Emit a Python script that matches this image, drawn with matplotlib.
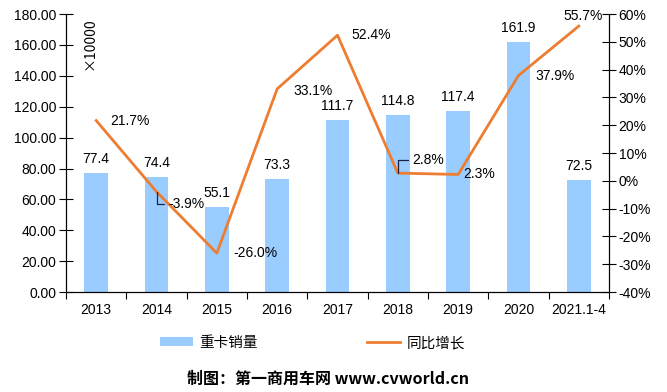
import matplotlib
matplotlib.use("Agg")
import matplotlib.pyplot as plt
from matplotlib.lines import Line2D
from matplotlib.patches import Patch

plt.rcParams['font.family'] = ['Liberation Sans', 'Noto Sans CJK SC', 'DejaVu Sans']

categories = ['2013', '2014', '2015', '2016', '2017', '2018', '2019', '2020', '2021.1-4']
sales = [77.4, 74.4, 55.1, 73.3, 111.7, 114.8, 117.4, 161.9, 72.5]
growth = [21.7, -3.9, -26.0, 33.1, 52.4, 2.8, 2.3, 37.9, 55.7]
left_ticks = [0, 20, 40, 60, 80, 100, 120, 140, 160, 180]
right_ticks = [-40, -30, -20, -10, 0, 10, 20, 30, 40, 50, 60]

# label offsets for growth labels, in pixels
growth_offsets = [(34, 0), (12, -12), (39, 0), (36, -2), (34, 0), (14, 13), (21, 0), (37, 0), (4, 10)]
growth_ha = ['center', 'left', 'center', 'center', 'center', 'left', 'center', 'center', 'center']
leader = [False, True, False, False, False, True, False, False, False]

fig = plt.figure(figsize=(6.67, 3.92), dpi=100)
ax = fig.add_axes([0.099, 0.255, 0.814, 0.709])
ax2 = ax.twinx()

x = list(range(len(categories)))
bar_color = '#99CCFF'
line_color = '#ED7D31'

ax.bar(x, sales, width=0.39, color=bar_color, zorder=2)
for xi, v in zip(x, sales):
    ax.annotate(f'{v:.1f}', (xi, v), xytext=(0, 7), textcoords='offset pixels',
                ha='center', va='bottom', fontsize=10)

ax.set_xlim(-0.5, len(categories) - 0.5)
ax.set_ylim(0, 180)
ax.set_yticks(left_ticks)
ax.set_yticklabels([f'{t:.2f}' for t in left_ticks], fontsize=10)
ax.set_xticks(x)
ax.set_xticklabels(categories, fontsize=10)
ax.set_xticks([i + 0.5 for i in range(-1, len(categories))], minor=True)
ax.tick_params(axis='x', which='major', length=0, pad=8)
ax.tick_params(axis='x', which='minor', length=5, direction='out', width=0.8)
ax.tick_params(axis='y', direction='inout', length=10, width=0.8, pad=2)

ax2.plot(x, growth, color=line_color, lw=2.0, zorder=3)
ax2.set_ylim(-40, 60)
ax2.set_yticks(right_ticks)
ax2.set_yticklabels([f'{t}%' for t in right_ticks], fontsize=10)
ax2.tick_params(axis='y', direction='inout', length=10, width=0.8, pad=2)

for xi, v, off, ha, ld in zip(x, growth, growth_offsets, growth_ha, leader):
    if ld:
        ax2.annotate(f'{v:.1f}%', (xi, v), xytext=off, textcoords='offset pixels',
                     ha=ha, va='center', fontsize=10,
                     arrowprops=dict(arrowstyle='-', color='#1F1F3F', lw=0.9,
                                     shrinkA=1, shrinkB=0,
                                     connectionstyle='angle,angleA=0,angleB=90,rad=0'))
    else:
        ax2.annotate(f'{v:.1f}%', (xi, v), xytext=off, textcoords='offset pixels',
                     ha=ha, va='center', fontsize=10)

for a in (ax, ax2):
    a.spines['top'].set_visible(False)
    for s in ('left', 'right', 'bottom'):
        a.spines[s].set_color('black')
        a.spines[s].set_linewidth(0.8)

ax.text(0.044, 0.892, '×10000', transform=ax.transAxes, rotation=90,
        ha='center', va='center', fontsize=10,
        family=['Noto Sans CJK SC', 'DejaVu Sans'])

handles = [Patch(facecolor=bar_color, edgecolor='none'),
           Line2D([0], [0], color=line_color, lw=2.0)]
fig.legend(handles, ['重卡销量', '同比增长'], loc='center', bbox_to_anchor=(0.468, 0.125),
           ncol=2, frameon=False, handlelength=2.3, handleheight=0.6,
           columnspacing=7.5, handletextpad=0.4,
           prop={'family': ['Noto Sans CJK SC'], 'size': 10.5})

fig.text(0.492, 0.035, '制图：第一商用车网 www.cvworld.cn', ha='center', va='center',
         fontsize=11.5, fontweight='bold', family=['Noto Sans CJK SC', 'DejaVu Sans'])

fig.savefig('out.png', dpi=100)
